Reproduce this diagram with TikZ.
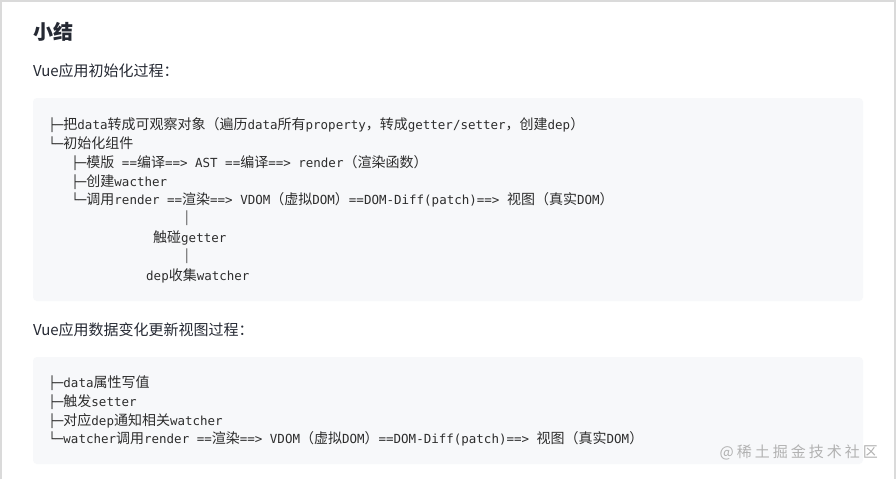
\documentclass[tikz,border=0pt]{standalone}
\usepackage{fontspec}
\setmainfont{Noto Sans CJK SC}
\newfontfamily\cjkf{Noto Sans CJK SC}
\newfontfamily\monof{DejaVu Sans Mono}
\definecolor{headc}{RGB}{37,41,51}
\definecolor{codec}{RGB}{45,45,45}
\definecolor{blockbg}{RGB}{247,248,250}
\definecolor{borderc}{RGB}{218,218,218}
\definecolor{wmc}{RGB}{178,178,178}
\newcommand\zh[1]{{\cjkf\fontsize{14}{14}\selectfont #1}}
\newcommand\wsp{\hspace{3pt}}
\tikzset{
  codeline/.style={anchor=base west, inner sep=0pt, text=codec, font=\monof\fontsize{12.5}{12.5}\selectfont},
  pipechar/.style={anchor=center, inner sep=0pt, text=codec!80, font=\monof\fontsize{12.5}{12.5}\selectfont},
  codeblock/.style={fill=blockbg, draw=none, rounded corners=4pt},
  para/.style={anchor=base west, inner sep=0pt, text=headc, font=\cjkf\fontsize{15}{15}\selectfont},
}
\begin{document}
\begin{tikzpicture}[x=1pt,y=-1pt]
\useasboundingbox (0,0) rectangle (896,479);
\fill[white] (0,0) rectangle (896,479);
% page frame
\draw[borderc, line width=1.5pt] (1,479) -- (1,1) -- (895,1) -- (895,479);
% title and paragraphs
\node[anchor=base west, inner sep=0pt, text=headc, font=\cjkf\bfseries\fontsize{20}{20}\selectfont] (title) at (33,39.5) {小结};
\node[para] (p1) at (33,76.5) {Vue应用初始化过程：};
\node[para] (p2) at (33,335.5) {Vue应用数据变化更新视图过程：};
% code blocks
\path[codeblock] (33,98) rectangle (863,301);
\path[codeblock] (33,357) rectangle (863,464);
% block 1
\node[codeline] (a1) at (48.2,129) {├─\zh{把}data\zh{转成可观察对象（遍历}data\zh{所有}property\zh{，转成}getter/setter\zh{，创建}dep\zh{）}};
\node[codeline] (a2) at (48.2,148) {└─\zh{初始化组件}};
\node[codeline] (a3) at (71.2,167) {├─\zh{模版} ==\zh{编译}==> AST ==\zh{编译}==> render\zh{（渲染函数）}};
\node[codeline] (a4) at (71.2,186) {├─\zh{创建}wacther};
\node[codeline] (a5) at (71.2,204.5) {└─\zh{调用}render ==\zh{渲染}==> VDOM\zh{（虚拟}DOM\zh{）}==DOM-Diff(patch)==> \zh{视图（真实}DOM\zh{）}};
\node[pipechar] (b1) at (187,218) {│};
\node[codeline] (b2) at (153,242.5) {\zh{触碰}getter};
\node[pipechar] (b3) at (187,256) {│};
\node[codeline] (b4) at (146,280) {dep\zh{收集}watcher};
% block 2
\node[codeline] (c1) at (48.2,387) {├─data\zh{属性写值}};
\node[codeline] (c2) at (48.2,406) {├─\zh{触发}setter};
\node[codeline] (c3) at (48.2,425) {├─\zh{对应}dep\zh{通知相关}watcher};
\node[codeline] (c4) at (48.2,443.5) {└─watcher\zh{调用}render ==\zh{渲染}==> VDOM\zh{（虚拟}DOM\zh{）}==DOM-Diff(patch)==> \zh{视图（真实}DOM\zh{）}};
% watermark
\node[anchor=base east, inner sep=0pt, text=wmc, font=\cjkf\fontsize{15}{15}\selectfont] (wm) at (878,457) {@\wsp 稀\wsp 土\wsp 掘\wsp 金\wsp 技\wsp 术\wsp 社\wsp 区};
\end{tikzpicture}
\end{document}
